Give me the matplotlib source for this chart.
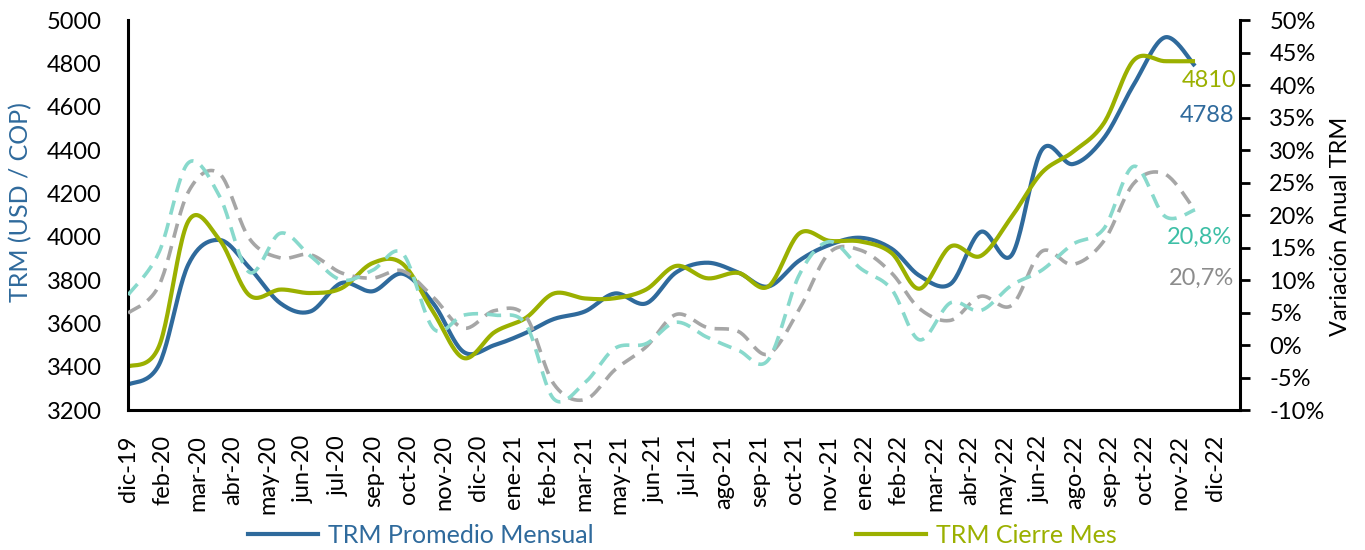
import numpy as np
import pandas as pd
import matplotlib
matplotlib.use('Agg')
import matplotlib.pyplot as plt
from matplotlib.lines import Line2D
from matplotlib.ticker import FuncFormatter

plt.rcParams['font.family'] = ['Lato', 'DejaVu Sans']

# datos (un punto por mes)
fechas = pd.date_range('2019-12-31', periods=36, freq='ME')

trm_promedio = [3317, 3410, 3870, 3985, 3858, 3693, 3655, 3786, 3748, 3829, 3690, 3468,
                3500, 3556, 3620, 3655, 3738, 3692, 3835, 3880, 3835, 3770, 3890, 3962,
                3995, 3945, 3820, 3782, 4022, 3915, 4400, 4335, 4455, 4703, 4920, 4788]
trm_cierre = [3400, 3495, 4070, 3988, 3730, 3756, 3740, 3762, 3878, 3875, 3650, 3440,
              3560, 3625, 3738, 3715, 3716, 3756, 3865, 3808, 3833, 3770, 4015, 3981,
              3978, 3925, 3760, 3955, 3911, 4092, 4295, 4391, 4524, 4815, 4810, 4810]
var_cierre = [7.7, 14.3, 28.0, 23.0, 11.2, 17.2, 13.7, 10.0, 11.5, 14.1, 2.5, 4.6,
              4.6, 3.2, -8.3, -5.8, -0.5, 0.2, 3.5, 1.2, -0.8, -2.3, 10.8, 15.9,
              11.8, 8.6, 0.8, 6.5, 5.3, 9.2, 11.5, 15.5, 17.9, 27.5, 19.8, 20.8]
var_promedio = [4.9, 9.2, 23.5, 26.4, 16.4, 13.4, 13.9, 11.1, 10.3, 11.4, 7.3, 2.6,
                5.3, 4.4, -6.0, -8.4, -3.8, -0.3, 4.7, 2.7, 2.1, -1.4, 5.5, 14.2,
                14.6, 11.1, 5.6, 3.8, 7.5, 6.1, 14.4, 12.4, 16.0, 24.9, 26.3, 20.7]

etiquetas_x = ['dic-19', 'feb-20', 'mar-20', 'abr-20', 'may-20', 'jun-20', 'jul-20', 'sep-20',
               'oct-20', 'nov-20', 'dic-20', 'ene-21', 'feb-21', 'mar-21', 'may-21', 'jun-21',
               'jul-21', 'ago-21', 'sep-21', 'oct-21', 'nov-21', 'ene-22', 'feb-22', 'mar-22',
               'abr-22', 'may-22', 'jun-22', 'ago-22', 'sep-22', 'oct-22', 'nov-22', 'dic-22']

AZUL = '#2f6a9c'
VERDE = '#9bb000'
TURQUESA = '#88d9cc'
TURQUESA_TXT = '#3dbfa6'
GRIS = '#a6a6a6'
GRIS_TXT = '#8c8c8c'


def suavizar(valores, n=24):
    # curva suavizada tipo Excel (bezier con tangentes de Catmull-Rom)
    a = np.asarray(valores, dtype=float)
    a = np.r_[a[0], a, a[-1]]
    p0, p1, pm, p2 = a[1:-2], a[2:-1], a[:-3], a[3:]
    c1 = p0 + (p1 - pm) / 6
    c2 = p1 - (p2 - p0) / 6
    t = np.linspace(0, 1, n, endpoint=False)[:, None]
    b = ((1 - t) ** 3 * p0 + 3 * (1 - t) ** 2 * t * c1
         + 3 * (1 - t) * t ** 2 * c2 + t ** 3 * p1)
    return np.r_[b.T.ravel(), a[-2]]


dias = (fechas - fechas[0]).days.values
xs = suavizar(dias)

fig = plt.figure(figsize=(13.65, 5.5), dpi=100)
ax = fig.add_axes([0.0938, 0.2545, 0.8147, 0.7091])
ax2 = ax.twinx()

ax.plot(xs, suavizar(trm_promedio), color=AZUL, lw=3, solid_capstyle='butt')
ax.plot(xs, suavizar(trm_cierre), color=VERDE, lw=3, solid_capstyle='butt')
ax2.plot(xs, suavizar(var_promedio), color=GRIS, lw=2.6, dashes=(4, 2.4))
ax2.plot(xs, suavizar(var_cierre), color=TURQUESA, lw=2.6, dashes=(4, 2.4))

ax.set_xlim(0, 1110)
ax.set_ylim(3200, 5000)
ax.set_yticks(range(3200, 5001, 200))
ax2.set_ylim(-10, 50)
ax2.set_yticks(range(-10, 51, 5))
ax2.yaxis.set_major_formatter(FuncFormatter(lambda v, p: f'{v:.0f}%'))

ax.set_xticks(np.arange(len(etiquetas_x)) * 35)
ax.set_xticklabels(etiquetas_x)

for s in ['top', 'right']:
    ax.spines[s].set_visible(False)
for s in ['top', 'left', 'bottom']:
    ax2.spines[s].set_visible(False)
ax.spines['left'].set_linewidth(2.2)
ax.spines['bottom'].set_linewidth(2.2)
ax2.spines['right'].set_linewidth(2.2)

ax.tick_params(axis='y', length=0, pad=19, labelsize=17)
ax.tick_params(axis='x', length=0, pad=18, labelsize=17, labelrotation=90)
ax2.tick_params(axis='y', direction='out', length=7, width=2, pad=14, labelsize=17)

ax.set_ylabel('TRM (USD / COP)', color=AZUL, fontsize=18)
ax.yaxis.set_label_coords(-0.086, 0.533)
ax2.set_ylabel('Variación Anual TRM', fontsize=17)
ax2.yaxis.set_label_coords(1.081, 0.47)

# valores del ultimo mes
ax.annotate('4810', xy=(dias[-1], trm_cierre[-1]), xytext=(30, -14), textcoords='offset points',
            ha='right', va='center', color=VERDE, fontsize=17)
ax.annotate('4788', xy=(dias[-1], trm_promedio[-1]), xytext=(28, -36), textcoords='offset points',
            ha='right', va='center', color=AZUL, fontsize=17)
ax2.annotate('20,8%', xy=(dias[-1], var_cierre[-1]), xytext=(27, -20), textcoords='offset points',
             ha='right', va='center', color=TURQUESA_TXT, fontsize=17)
ax2.annotate('20,7%', xy=(dias[-1], var_promedio[-1]), xytext=(28, -49), textcoords='offset points',
             ha='right', va='center', color=GRIS_TXT, fontsize=17)

manijas = [Line2D([], [], color=AZUL, lw=3), Line2D([], [], color=VERDE, lw=3)]
fig.legend(manijas, ['TRM Promedio Mensual', 'TRM Cierre Mes'], loc='center',
           bbox_to_anchor=(0.5, 0.027), ncol=2, frameon=False, fontsize=18,
           handlelength=2.8, handletextpad=0.4, columnspacing=10.5,
           labelcolor=[AZUL, VERDE])

fig.savefig('out.png', dpi=100)
